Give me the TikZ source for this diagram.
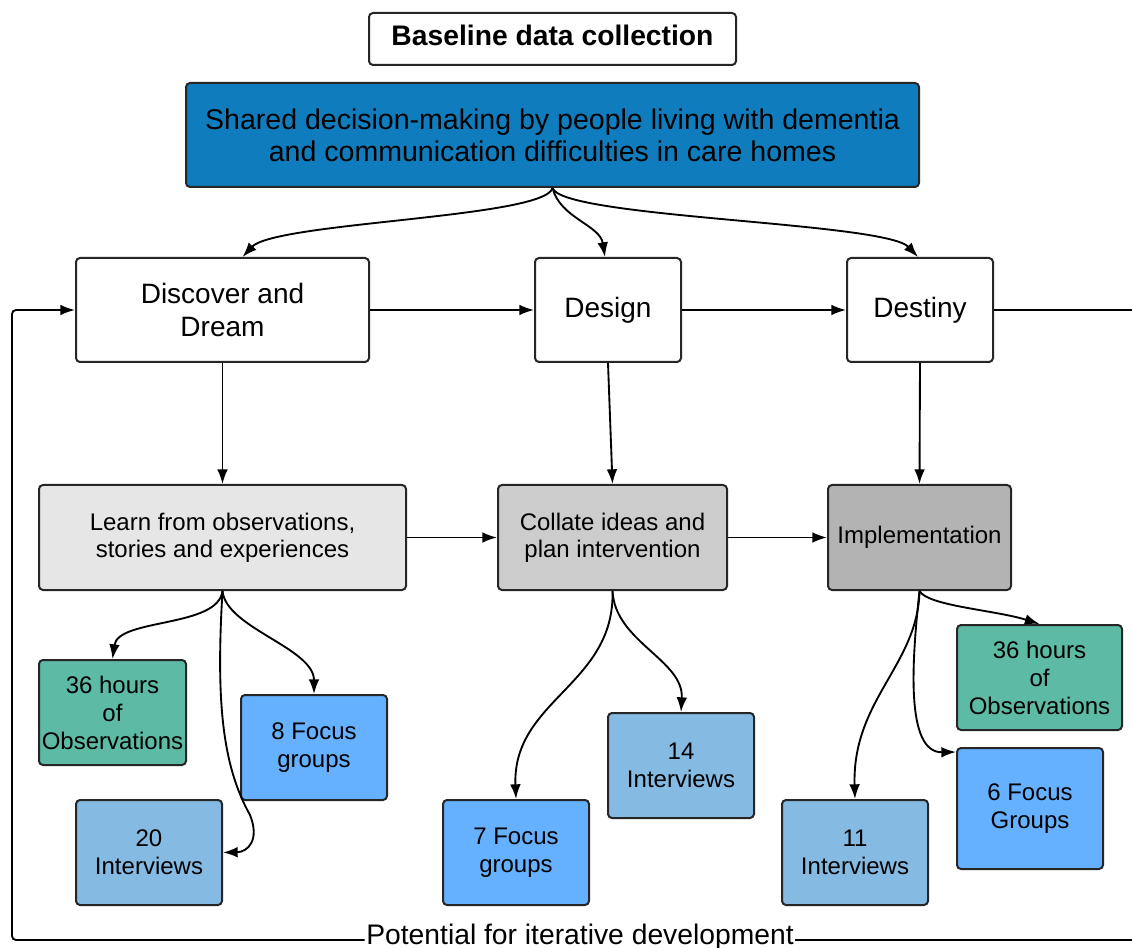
\documentclass[tikz,border=0pt]{standalone}
\usepackage{fontspec}
\setmainfont{Liberation Sans}
\usetikzlibrary{arrows.meta,calc}
\definecolor{sharedblue}{HTML}{0F7DBD}
\definecolor{obsgreen}{HTML}{5CBAA5}
\definecolor{focusblue}{HTML}{66B1FF}
\definecolor{intblue}{HTML}{85BAE3}
\definecolor{grayA}{HTML}{E6E6E6}
\definecolor{grayB}{HTML}{CCCCCC}
\definecolor{grayC}{HTML}{B3B3B3}
\begin{document}
\begin{tikzpicture}[x=0.75pt,y=-0.75pt,
  box/.style={draw=black!85, line width=1.5pt, rounded corners=3pt, align=center, inner sep=0pt},
  stage/.style={box, fill=white, minimum height=78pt, font=\fontsize{21}{24.75}\selectfont},
  mid/.style={box, minimum height=78.75pt, font=\fontsize{18}{20.25}\selectfont},
  small/.style={box, minimum width=109.5pt, minimum height=78.75pt, font=\fontsize{18}{21}\selectfont},
  arr/.style={-{Latex[length=11pt,width=8pt]}, line width=1.4pt},
  plain/.style={line width=1.4pt}]
\useasboundingbox (0,0) rectangle (1132,948);

% top boxes
\node[box, fill=white, minimum width=275.25pt, minimum height=39pt, text depth=6pt, font=\bfseries\fontsize{21.2}{24}\selectfont] (base) at (552.5,39) {Baseline data collection};
\node[box, fill=sharedblue, minimum width=549.75pt, minimum height=78pt, font=\fontsize{21.4}{24}\selectfont] (shared) at (552.5,135) {Shared decision-making by people living with dementia\\and communication difficulties in care homes};

% stages
\node[stage, minimum width=219.75pt] (disc) at (222.5,310) {Discover and\\Dream};
\node[stage, minimum width=109.5pt] (design) at (608,310) {Design};
\node[stage, minimum width=109.5pt] (destiny) at (920,310) {Destiny};

% middle row
\node[mid, fill=grayA, minimum width=275.25pt] (learn) at (222.5,537.5) {Learn from observations,\\stories and experiences};
\node[mid, fill=grayB, minimum width=171.75pt] (collate) at (612.5,537.5) {Collate ideas and\\plan intervention};
\node[mid, fill=grayC, minimum width=137.25pt] (impl) at (919.5,537.5) {Implementation};

% leaves
\node[small, fill=obsgreen, minimum width=110.25pt] (obsL) at (112.5,712.5) {36 hours\\of\\Observations};
\node[small, fill=focusblue] (fg8) at (314,747.5) {8 Focus\\groups};
\node[small, fill=intblue] (int20) at (149,852.5) {20\\Interviews};
\node[small, fill=focusblue] (fg7) at (516,852.5) {7 Focus\\groups};
\node[small, fill=intblue] (int14) at (681,765.5) {14\\Interviews};
\node[small, fill=obsgreen, minimum width=123.75pt] (obsR) at (1039.5,677.5) {36 hours\\of\\Observations};
\node[small, fill=focusblue, minimum height=90.75pt] (fg6) at (1030,808.5) {6 Focus\\Groups};
\node[small, fill=intblue] (int11) at (855,852.5) {11\\Interviews};

% feedback label
\node[fill=white, inner sep=1pt, font=\fontsize{21.2}{24}\selectfont] (pot) at (580,937) {Potential for iterative development};
\coordinate (loopR) at (1132,310);
\coordinate (loopBR) at (1132,940);
\coordinate (cBL) at (12,940);
\coordinate (cTL) at (12,310);

% shared -> stages
\draw[arr] (shared.south) .. controls (545,218) and (275,222) .. ($(disc.north)+(20,0)$);
\draw[arr] (shared.south) .. controls (560,218) and (600,225) .. ($(design.north)+(-3,0)$);
\draw[arr] (shared.south) .. controls (562,218) and (885,222) .. ($(destiny.north)+(-2,0)$);

% stage chain
\draw[arr] (disc.east) -- (design.west);
\draw[arr] (design.east) -- (destiny.west);
\draw[plain] (destiny.east) -- (loopR);

% stage -> middle
\draw[arr] (disc.south) -- (learn.north);
\draw[arr] (design.south) -- (collate.north);
\draw[arr] (destiny.south) -- (impl.north);
\draw[arr] (learn.east) -- (collate.west);
\draw[arr] (collate.east) -- (impl.west);

% learn children
\draw[arr] (learn.south) .. controls (218,628) and (118,618) .. (obsL.north);
\draw[arr] (learn.south) .. controls (226,628) and (314,648) .. (fg8.north);
\draw[arr] (learn.south) .. controls (216,700) and (222,765) .. (250,815) .. controls (260,840) and (248,852) .. (int20.east);

% collate children
\draw[arr] (collate.south) .. controls (615,685) and (512,700) .. (fg7.north);
\draw[arr] (collate.south) .. controls (615,642) and (684,660) .. (int14.north);

% implementation children
\draw[arr] (impl.south) .. controls (928,606) and (995,610) .. (obsR.north);
\draw[arr] (impl.south) .. controls (918,665) and (852,700) .. (int11.north);
\draw[arr] (impl.south) .. controls (912,660) and (905,753) .. ($(fg6.north west)+(0,5)$);

% feedback loop
\draw[plain] (loopBR) -- (pot.east |- loopBR);
\draw[arr, rounded corners=3pt] (pot.west |- loopBR) -- (cBL) -- (cTL) -- (disc.west);
\end{tikzpicture}
\end{document}
